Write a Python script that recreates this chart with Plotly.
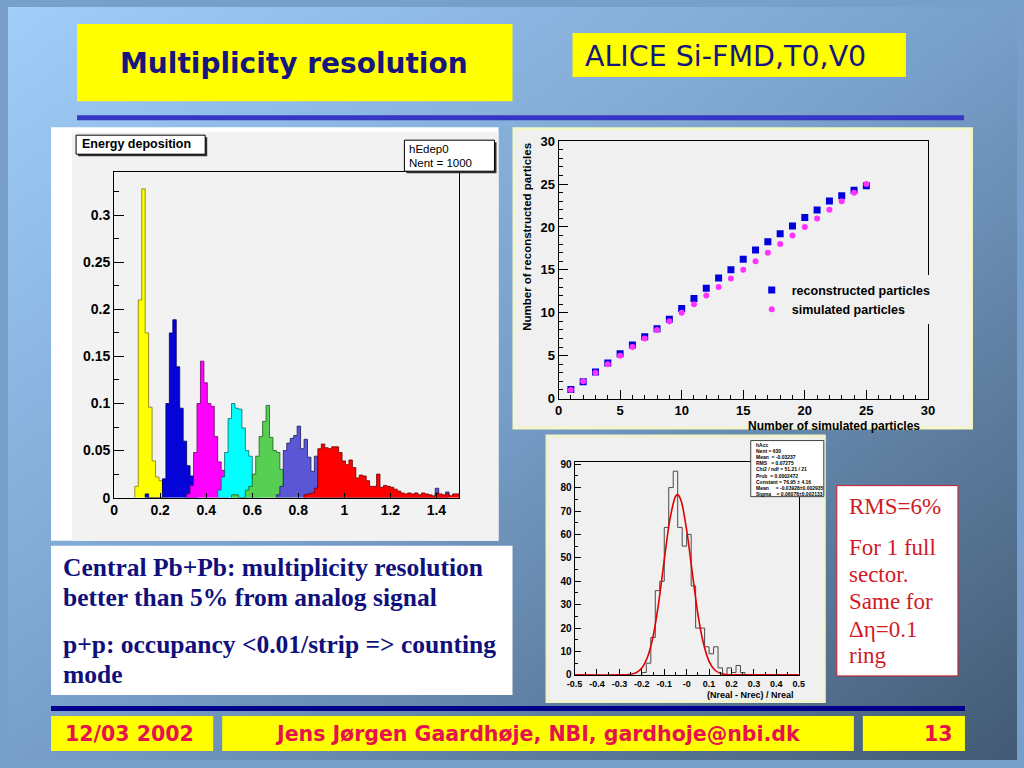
import base64
import plotly.graph_objects as go

W, H = 1024, 768

# ---------------- data ----------------
# Energy deposition histograms (bin width 0.015, values per bin from start edge)
edep_width = 0.015
yellow_start = 0.09
yellow = [0.012, 0.21, 0.328, 0.175, 0.096, 0.039, 0.022, 0.018, 0.004]
blue_start = 0.135
blue = [0.004, 0, 0, 0, 0, 0.02, 0.10, 0.175, 0.189, 0.139, 0.095, 0.06, 0.034, 0.023, 0.008]
magenta_start = 0.315
magenta = [0.004, 0.013, 0.048, 0.10, 0.145, 0.122, 0.10, 0.097, 0.065, 0.038, 0.029, 0.012]
cyan_start = 0.45
cyan = [0.008, 0.022, 0.048, 0.084, 0.10, 0.095, 0.094, 0.074, 0.05, 0.044, 0.02, 0.006]
green_start = 0.51
green = [0.003, 0.003, 0, 0, 0.008, 0.012, 0.025, 0.044, 0.065, 0.081, 0.098, 0.064, 0.05,
         0.048, 0.03, 0.012, 0.004]
violet_start = 0.705
violet = [0.003, 0.012, 0.05, 0.058, 0.063, 0.066, 0.076, 0.052, 0.062, 0.043, 0.028, 0.044, 0.004,
          0, 0, 0, 0, 0, 0, 0, 0, 0, 0, 0, 0, 0, 0, 0, 0, 0, 0, 0, 0, 0, 0, 0, 0, 0, 0, 0, 0, 0, 0, 0, 0, 0,
          0.01, 0, 0, 0.006]
red_start = 0.825
red = [0.003, 0.004, 0.005, 0.01, 0.052, 0.057, 0.053, 0.052, 0.054, 0.054, 0.048, 0.039, 0.035,
       0.04, 0.032, 0.021, 0.024, 0.023, 0.018, 0.012, 0.012, 0.025, 0.011, 0.013, 0.012, 0.011,
       0.009, 0.007, 0.005, 0.004, 0.005, 0.004, 0.005, 0.003, 0.005, 0.004, 0.003, 0.002, 0.005,
       0.004, 0.003, 0.004, 0.002, 0.004, 0.004]

# Reconstructed vs simulated particles
n_simulated = [1, 2, 3, 4, 5, 6, 7, 8, 9, 10, 11, 12, 13, 14, 15, 16, 17, 18, 19, 20, 21, 22, 23, 24, 25]
n_reconstructed = [1.05, 1.95, 3.08, 4.13, 5.22, 6.23, 7.2, 8.14, 9.23, 10.48, 11.65, 12.86, 14.06,
                   15.0, 16.24, 17.3, 18.27, 19.2, 20.1, 21.1, 21.97, 23.02, 23.65, 24.27, 24.8]
n_simulated_y = [1, 2, 3, 4, 5, 6, 7, 8, 9, 10, 11, 12, 13, 14, 15, 16, 17, 18, 19, 20, 21, 22, 23, 24, 25]

# Resolution histogram (bin width 0.02)
acc_width = 0.02
acc_start = -0.2
acc_counts = [1, 5, 16, 36, 40, 63, 80, 87, 63, 55, 60, 38, 20, 20, 12, 9, 12, 3, 0, 3, 1, 4, 1]
fit_x = [-0.5, -0.3, -0.25, -0.225, -0.2, -0.175, -0.15, -0.125, -0.1, -0.075, -0.05, -0.04,
         -0.025, 0.0, 0.025, 0.05, 0.075, 0.1, 0.125, 0.15, 0.175, 0.2, 0.25, 0.5]
fit_y = [0, 0, 0.3, 0.9, 2.9, 7.5, 16.3, 30.8, 49, 66.3, 76.2, 77, 74.5, 61.8, 43.7, 26, 13.4,
         5.8, 2.1, 0.7, 0.2, 0.05, 0, 0]
acc_ticks = [-0.5, -0.4, -0.3, -0.2, -0.1, 0, 0.1, 0.2, 0.3, 0.4, 0.5]
acc_ticktext = ['-0.5', '-0.4', '-0.3', '-0.2', '-0.1', '-0', '0.1', '0.2', '0.3', '0.4', '0.5']

stats_lines = ['hAcc', 'Nent = 630', 'Mean  = -0.03237', 'RMS   = 0.07275',
               'Chi2 / ndf = 51.21 / 21', 'Prob  = 0.0002472', 'Constant = 76.95 \u00b1 4.16',
               'Mean     = -0.03928\u00b10.002935', 'Sigma    = 0.06078\u00b10.002133']


# ---------------- helpers (slide pixel -> paper, compensating the 8px page inset) ----------------
def px(x):
    return (x - 8) / 1008


def py(y):
    return 1 - (y - 8) / 752


def step(start, width, vals):
    xs = [start] + [round(start + i * width, 6) for i in range(len(vals))] + [round(start + len(vals) * width, 6)]
    ys = [0] + list(vals) + [0]
    return xs, ys


shapes = []


def box(x0, y0, x1, y1, fill, line=None, lw=0, layer='below'):
    shapes.append(dict(type='rect', xref='paper', yref='paper', x0=px(x0), x1=px(x1),
                       y0=py(y1), y1=py(y0), fillcolor=fill,
                       line=dict(color=line if line else fill, width=lw), layer=layer))


annotations = []


def text(x, y, s, size, color, family, bold=False, xanchor='left', yanchor='middle', angle=0):
    annotations.append(dict(x=px(x), y=py(y), xref='paper', yref='paper', text=s, showarrow=False,
                            xanchor=xanchor, yanchor=yanchor, textangle=angle,
                            font=dict(size=size, color=color, family=family,
                                      weight='bold' if bold else 'normal')))


ROOT = 'Liberation Sans, Arial, sans-serif'
SERIF = 'Liberation Serif, Times New Roman, serif'
COMIC = 'DejaVu Sans, sans-serif'
NAVY = '#16167e'
PINK = '#e5124e'

fig = go.Figure()

# ---------------- left histograms ----------------
hists = [
    (yellow_start, yellow, '#ffff00', '#7a7a00'),
    (blue_start, blue, '#0404d8', '#00005a'),
    (magenta_start, magenta, '#ff00ff', '#700070'),
    (cyan_start, cyan, '#00ffff', '#006868'),
    (green_start, green, '#56cf52', '#1f5c1f'),
    (violet_start, violet, '#5b56d4', '#1d1a60'),
    (red_start, red, '#ff0000', '#6e0000'),
]
for start, vals, fc, lc in hists:
    xs, ys = step(start, edep_width, vals)
    fig.add_trace(go.Scatter(x=xs, y=ys, mode='lines', line=dict(shape='hv', color=lc, width=0.8),
                             fill='tozeroy', fillcolor=fc, showlegend=False, hoverinfo='skip',
                             xaxis='x', yaxis='y'))

# ---------------- scatter ----------------
fig.add_trace(go.Scatter(x=n_simulated, y=n_reconstructed, mode='markers', name='reconstructed particles',
                         marker=dict(symbol='square', size=7, color='#0000dd'), xaxis='x2', yaxis='y2'))
fig.add_trace(go.Scatter(x=n_simulated, y=n_simulated_y, mode='markers', name='simulated particles',
                         marker=dict(symbol='circle', size=6, color='#ff33ff'), xaxis='x2', yaxis='y2'))

# ---------------- resolution histogram ----------------
xs, ys = step(acc_start, acc_width, acc_counts)
fig.add_trace(go.Scatter(x=xs, y=ys, mode='lines', line=dict(shape='hv', color='#4a4a4a', width=1),
                         showlegend=False, hoverinfo='skip', xaxis='x3', yaxis='y3'))
fig.add_trace(go.Scatter(x=fit_x, y=fit_y, mode='lines', line=dict(shape='spline', smoothing=0.8,
                         color='#e00000', width=1.6), showlegend=False, hoverinfo='skip',
                         xaxis='x3', yaxis='y3'))

# ---------------- decorative slide shapes ----------------
box(77, 25, 512, 102, '#ffff00')
box(572, 34, 905, 78, '#ffff00')
box(77, 116, 963, 121, '#3636c4')
# left panel
box(51, 128, 498, 541, '#ffffff')
box(72, 133, 498, 541, '#f2f2f2')
box(78, 138, 207, 157, '#303030')
box(76, 136, 205, 155, '#ffffff', 'black', 1)
box(406, 143, 496, 174, '#303030', layer='above')
box(404, 141, 494, 172, '#ffffff', 'black', 1, layer='above')
# scatter panel
box(512, 128, 972, 430, '#f4f6c8')
box(515, 131, 969, 427, '#f0f0f0')
# bottom panel
box(545, 435, 825, 703, '#eef3cc')
box(548, 438, 822, 700, '#f0f0f0')
box(750, 441, 823, 497, '#ffffff', '#404040', 1, layer='above')
# text boxes
box(51, 546, 512, 695, '#ffffff')
box(836, 486, 957, 676, '#ffffff', '#d01a26', 1)
# footer
box(51, 706, 964, 711, '#00008a')
box(51, 716, 213, 751, '#ffff00')
box(222, 716, 853, 751, '#ffff00')
box(862, 716, 964, 751, '#ffff00')

# ---------------- texts ----------------
text(294, 64, 'Multiplicity resolution', 28, NAVY, COMIC, True, xanchor='center')
text(582, 57, 'ALICE Si-FMD,T0,V0', 28.5, NAVY, COMIC, False)

text(80, 145, 'Energy deposition', 12.5, 'black', ROOT, True)
text(407, 150, 'hEdep0', 11.5, 'black', ROOT)
text(407, 164, 'Nent = 1000', 11.5, 'black', ROOT)

text(921, 426, 'Number of simulated particles', 12, 'black', ROOT, True, xanchor='right')
text(527, 238, 'Number of reconstructed particles', 11.5, 'black', ROOT, True, xanchor='center', angle=-90)

text(795, 695, '(Nreal - Nrec) / Nreal', 9, 'black', ROOT, True, xanchor='right')
for i, s in enumerate(stats_lines):
    text(753, 445 + i * 6.2, s, 5, 'black', ROOT, True)

left_lines = [('Central Pb+Pb: multiplicity resolution', 568),
              ('better than 5% from analog signal', 598),
              ('p+p: occupancy <0.01/strip => counting', 645),
              ('mode', 675)]
for s, y in left_lines:
    text(61, y, s, 25.5, '#10107c', SERIF, True)

red_lines = [('RMS=6%', 507), ('For 1 full', 548), ('sector.', 575), ('Same for', 602),
             ('\u0394\u03b7=0.1', 630), ('ring', 656)]
for s, y in red_lines:
    text(846, y, s, 23, '#d01a26', SERIF, False)

text(63, 734, '12/03 2002', 20.5, PINK, COMIC, True)
text(537, 734, 'Jens J\u00f8rgen Gaardh\u00f8je, NBI, gardhoje@nbi.dk', 20.5, PINK, COMIC, True, xanchor='center')
text(954, 734, '13', 20.5, PINK, COMIC, True, xanchor='right')

# ---------------- background gradient ----------------
svg = ('<svg xmlns="http://www.w3.org/2000/svg" width="1024" height="768" preserveAspectRatio="none">'
       '<defs><linearGradient id="g" x1="0" y1="0" x2="1" y2="1">'
       '<stop offset="0" stop-color="#a0cef9"/><stop offset="0.5" stop-color="#789fca"/>'
       '<stop offset="1" stop-color="#425a73"/></linearGradient></defs>'
       '<rect width="1024" height="768" fill="url(#g)"/></svg>')
bg_src = 'data:image/svg+xml;base64,' + base64.b64encode(svg.encode()).decode()

axis_common = dict(showline=True, mirror=True, linecolor='black', linewidth=1, ticks='inside',
                   tickcolor='black', showgrid=False, zeroline=False, fixedrange=True)

fig.update_layout(
    width=W, height=H, autosize=False,
    margin=dict(l=0, r=0, t=0, b=0),
    paper_bgcolor='#789fca', plot_bgcolor='rgba(0,0,0,0)',
    images=[dict(source=bg_src, xref='paper', yref='paper', x=0, y=1, sizex=1, sizey=1,
                 xanchor='left', yanchor='top', sizing='stretch', layer='below')],
    shapes=shapes, annotations=annotations,
    xaxis=dict(domain=[px(114), px(459)], range=[0, 1.5], anchor='y', dtick=0.2, tick0=0, ticklen=5,
               tickfont=dict(family=ROOT, size=14, color='black', weight='bold'), **axis_common),
    yaxis=dict(domain=[py(498), py(173)], range=[0, 0.3457], anchor='x', dtick=0.05, tick0=0, ticklen=10,
               minor=dict(dtick=0.025, ticklen=5, ticks='inside', tickcolor='black'),
               tickfont=dict(family=ROOT, size=14, color='black', weight='bold'), **axis_common),
    xaxis2=dict(domain=[px(558), px(927)], range=[0, 30], anchor='y2', dtick=5, tick0=0, ticklen=9,
                minor=dict(dtick=1, ticklen=4, ticks='inside', tickcolor='black'),
                tickfont=dict(family=ROOT, size=13, color='black', weight='bold'), **axis_common),
    yaxis2=dict(domain=[py(399), py(142)], range=[0, 30], anchor='x2', dtick=5, tick0=0, ticklen=9,
                minor=dict(dtick=1, ticklen=4, ticks='inside', tickcolor='black'),
                tickfont=dict(family=ROOT, size=13, color='black', weight='bold'), **axis_common),
    xaxis3=dict(domain=[px(574), px(798)], range=[-0.5, 0.5], anchor='y3', tickvals=acc_ticks,
                ticktext=acc_ticktext, ticklen=6,
                minor=dict(dtick=0.05, ticklen=3, ticks='inside', tickcolor='black'),
                tickfont=dict(family=ROOT, size=9, color='black', weight='bold'), **axis_common),
    yaxis3=dict(domain=[py(675), py(462)], range=[0, 91.1], anchor='x3', dtick=10, tick0=0, ticklen=6,
                minor=dict(dtick=5, ticklen=3, ticks='inside', tickcolor='black'),
                tickfont=dict(family=ROOT, size=10, color='black', weight='bold'), **axis_common),
    legend=dict(x=px(751), y=py(276), xanchor='left', yanchor='top', bgcolor='#f0f0f0',
                font=dict(family=ROOT, size=12.5, color='black', weight='bold'), itemwidth=30,
                tracegroupgap=0),
)

post = ("var d=document.getElementById('{plot_id}');"
        "d.style.position='fixed';d.style.left='0px';d.style.top='0px';"
        "document.body.style.margin='0';document.body.style.padding='0';"
        "document.body.style.overflow='hidden';document.documentElement.style.overflow='hidden';"
        "document.documentElement.style.background='linear-gradient(to bottom right,#a0cef9,#789fca,#425a73)';"
        "document.body.style.background='transparent';")

fig.write_html('out.html', config={'displayModeBar': False}, post_script=post)
